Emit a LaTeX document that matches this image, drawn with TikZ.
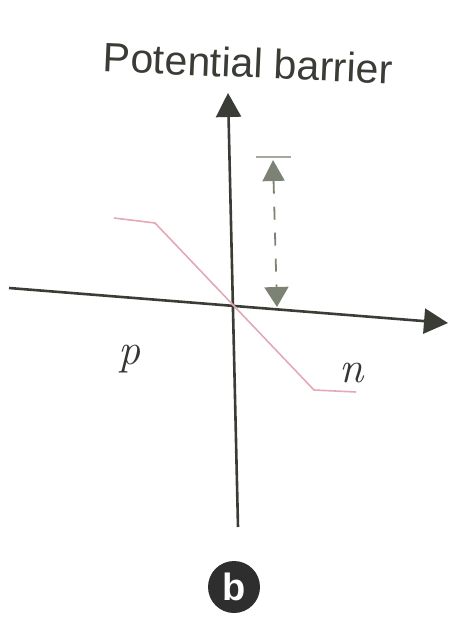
\documentclass[tikz,border=0pt]{standalone}
\usepackage{fontspec}
\setsansfont{Liberation Sans}
\usetikzlibrary{arrows.meta}
\definecolor{axisc}{HTML}{3A3D36}
\definecolor{pinkc}{HTML}{E3A9B4}
\definecolor{dashc}{HTML}{7D8374}
\definecolor{circc}{HTML}{2E2E2E}
\tikzset{
  axisline/.style={draw=axisc, line width=2.6pt, -{Triangle[length=24pt,width=25pt]}},
  barrierline/.style={draw=pinkc, line width=1.6pt},
  dimline/.style={draw=dashc, line width=1.8pt, dash pattern=on 13pt off 13pt,
    {Triangle[length=21pt,width=22pt]}-{Triangle[length=20pt,width=24pt]}},
  capline/.style={draw=dashc!70, line width=1.8pt},
  lbl/.style={inner sep=0pt, text=axisc},
  varlbl/.style={inner sep=0pt, text=axisc!90!black, font=\itshape\fontsize{44}{44}\selectfont},
}
\begin{document}
\begin{tikzpicture}[x=1pt,y=-1pt]
\useasboundingbox (0,0) rectangle (474,641);
% axes
\coordinate (vb) at (238,527);
\coordinate (vt) at (228,93);
\coordinate (hl) at (9,288);
\coordinate (hr) at (448,323);
\draw[axisline] (vb) -- (vt);
\draw[axisline] (hl) -- (hr);
% barrier profile
\coordinate (b1) at (114,218);
\coordinate (b2) at (155,223);
\coordinate (b3) at (314,390);
\coordinate (b4) at (356,392);
\draw[barrierline] (b1) -- (b2) -- (b3) -- (b4);
% dimension arrow
\coordinate (ct1) at (256,157);
\coordinate (ct2) at (291,157);
\coordinate (dt) at (273,160);
\coordinate (db) at (277,307);
\draw[capline] (ct1) -- (ct2);
\draw[dimline] (dt) -- (db);
% labels
\node[lbl, font=\sffamily\fontsize{41}{41}\selectfont, rotate=-2.5] (title) at (248,63) {Potential barrier};
\node[varlbl] (p) at (129,359) {p};
\node[varlbl] (n) at (352,373) {n};
\node[circle, fill=circc, minimum size=52pt, inner sep=0pt, text=white,
  font=\sffamily\bfseries\fontsize{38}{38}\selectfont] (b) at (234,587) {b};
\end{tikzpicture}
\end{document}
